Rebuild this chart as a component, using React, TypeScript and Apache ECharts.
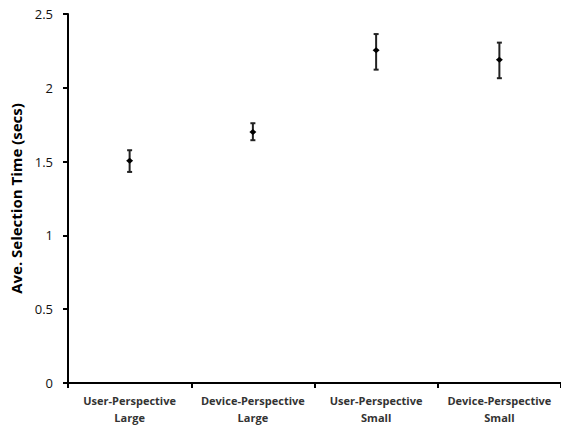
import React, { useEffect, useRef } from "react";
import * as echarts from "echarts";

const categories = [
  "User-Perspective\nLarge",
  "Device-Perspective\nLarge",
  "User-Perspective\nSmall",
  "Device-Perspective\nSmall",
];
const means = [1.505, 1.7, 2.255, 2.19];
const lower = [1.43, 1.645, 2.123, 2.065];
const upper = [1.577, 1.76, 2.364, 2.306];
const yTicks = [0, 0.5, 1, 1.5, 2, 2.5];

export default function App() {
  const ref = useRef<HTMLDivElement>(null);
  useEffect(() => {
    if (!ref.current) return;
    const chart = echarts.init(ref.current, undefined, { renderer: "svg" });
    const data = categories.map((_, i) => [i, means[i], lower[i], upper[i]]);
    chart.setOption({
      animation: false,
      backgroundColor: "#fff",
      grid: { left: 68, right: -4, top: 14, bottom: 46 },
      xAxis: {
        type: "category",
        data: categories,
        boundaryGap: true,
        axisLine: { lineStyle: { color: "#000", width: 2 } },
        axisTick: { show: true, length: 5, lineStyle: { color: "#000", width: 2 }, alignWithLabel: false },
        axisLabel: {
          color: "#333",
          fontFamily: "Open Sans",
          fontWeight: "bold",
          fontSize: 11,
          lineHeight: 17,
          margin: 9,
          interval: 0,
        },
      },
      yAxis: {
        type: "value",
        min: 0,
        max: 2.5,
        interval: 0.5,
        name: "Ave. Selection Time (secs)",
        nameLocation: "middle",
        nameGap: 41,
        nameTextStyle: {
          color: "#000",
          fontFamily: "Open Sans",
          fontWeight: "bold",
          fontSize: 15,
        },
        splitLine: { show: false },
        axisLine: { show: true, lineStyle: { color: "#000", width: 2 } },
        axisTick: { show: true, length: 5, lineStyle: { color: "#000", width: 2 } },
        axisLabel: {
          color: "#111",
          fontFamily: "Open Sans",
          fontSize: 13,
          margin: 15,
          formatter: (v: number) => (yTicks.includes(v) ? String(v) : ""),
        },
      },
      series: [
        {
          type: "custom",
          data,
          renderItem: (params: any, api: any) => {
            const x = api.value(0);
            const c = api.coord([x, api.value(1)]);
            const lo = api.coord([x, api.value(2)]);
            const hi = api.coord([x, api.value(3)]);
            const cap = 2.5;
            const style = { stroke: "#222", lineWidth: 2 };
            return {
              type: "group",
              children: [
                { type: "line", shape: { x1: c[0], y1: lo[1], x2: c[0], y2: hi[1] }, style },
                { type: "line", shape: { x1: c[0] - cap, y1: lo[1], x2: c[0] + cap, y2: lo[1] }, style },
                { type: "line", shape: { x1: c[0] - cap, y1: hi[1], x2: c[0] + cap, y2: hi[1] }, style },
                {
                  type: "polygon",
                  shape: {
                    points: [
                      [c[0], c[1] - 3],
                      [c[0] + 3.5, c[1]],
                      [c[0], c[1] + 3],
                      [c[0] - 3.5, c[1]],
                    ],
                  },
                  style: { fill: "#000" },
                },
              ],
            };
          },
        },
      ],
    });
    return () => chart.dispose();
  }, []);
  return <div ref={ref} style={{ width: 561, height: 429, position: "absolute", left: 0, top: 0 }} />;
}
